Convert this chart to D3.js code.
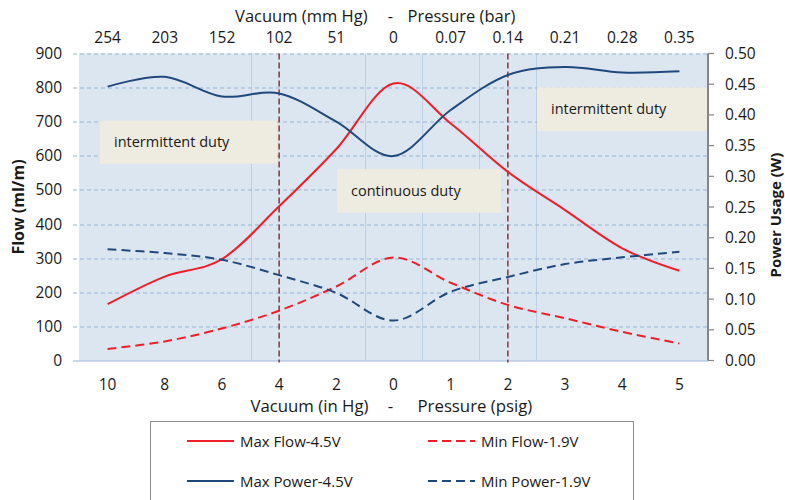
<!DOCTYPE html>
<html>
<head>
<meta charset="utf-8">
<script src="https://cdn.jsdelivr.net/npm/d3@7"></script>
<style>
  body { margin: 0; background: #fff; }
  text { font-family: "Open Sans", sans-serif; fill: #1a1a1a; }
</style>
</head>
<body>
<div id="chart"></div>
<script>
// categories: negative = vacuum (in Hg), positive = pressure (psig)
const categories = ["-10", "-8", "-6", "-4", "-2", "0", "1", "2", "3", "4", "5"];
const bottomLabels = ["10", "8", "6", "4", "2", "0", "1", "2", "3", "4", "5"];
const topLabels = ["254", "203", "152", "102", "51", "0", "0.07", "0.14", "0.21", "0.28", "0.35"];

const maxFlow = [165, 246, 297, 452, 620, 812, 695, 553, 441, 329, 263];
const minFlow = [34, 56, 94, 146, 217, 302, 228, 163, 124, 84, 50];
const maxPower = [0.446, 0.462, 0.430, 0.435, 0.389, 0.333, 0.408, 0.465, 0.478, 0.469, 0.471];
const minPower = [0.181, 0.175, 0.164, 0.139, 0.110, 0.065, 0.112, 0.136, 0.157, 0.168, 0.177];

const flowTicks = d3.range(0, 901, 100);
const powerTicks = d3.range(0, 0.501, 0.05);
const dutyLimits = ["-4", "2"];
// light vertical grid lines sit after these categories
const vGridAfter = ["-6", "-2", "0", "1", "2"];

const margin = { top: 53.5, right: 77, bottom: 139.5, left: 79 },
      width = 785 - margin.left - margin.right,
      height = 500 - margin.top - margin.bottom;

const svg = d3.select("#chart").append("svg")
  .attr("width", 785).attr("height", 500);

const g = svg.append("g").attr("transform", `translate(${margin.left},${margin.top})`);

const xb = d3.scaleBand().domain(categories).range([0, width]);
const x = c => xb(c) + xb.bandwidth() / 2;
const yL = d3.scaleLinear().domain([0, 900]).range([height, 0]);
const yR = d3.scaleLinear().domain([0, 0.5]).range([height, 0]);

// plot background
g.append("rect").attr("width", width).attr("height", height).attr("fill", "#dce6f1");

// vertical light grid
g.selectAll(".vgrid").data(vGridAfter).enter().append("line")
  .attr("x1", d => Math.round(xb(d) + xb.bandwidth()) + 0.5)
  .attr("x2", d => Math.round(xb(d) + xb.bandwidth()) + 0.5)
  .attr("y1", 0).attr("y2", height)
  .attr("stroke", "#bccfe6").attr("stroke-width", 1);

// horizontal dashed grid + left ticks
g.selectAll(".hgrid").data(flowTicks.slice(1)).enter().append("line")
  .attr("x1", -6).attr("x2", width)
  .attr("y1", d => Math.round(yL(d)) + 0.5).attr("y2", d => Math.round(yL(d)) + 0.5)
  .attr("stroke", "#95b3d7").attr("stroke-width", 1).attr("stroke-dasharray", "4,3");

// bottom axis line
g.append("line").attr("x1", -6).attr("x2", width)
  .attr("y1", height + 0.5).attr("y2", height + 0.5)
  .attr("stroke", "#95b3d7").attr("stroke-width", 1.2);

// annotation boxes
const boxes = [
  { label: "intermittent duty", x0: 21, x1: 198, v0: 703, v1: 577 },
  { label: "continuous duty", x0: 258, x1: 422, v0: 561, v1: 433 },
  { label: "intermittent duty", x0: 458, x1: width - 1, v0: 801, v1: 673 }
];
boxes.forEach(b => {
  g.append("rect")
    .attr("x", b.x0).attr("y", yL(b.v0))
    .attr("width", b.x1 - b.x0).attr("height", yL(b.v1) - yL(b.v0))
    .attr("fill", "#eeece1");
  g.append("text")
    .attr("x", b.x0 + 14).attr("y", (yL(b.v0) + yL(b.v1)) / 2 + 5)
    .attr("font-size", "14.5px")
    .text(b.label);
});

// duty limit lines
g.selectAll(".duty").data(dutyLimits).enter().append("line")
  .attr("x1", d => x(d)).attr("x2", d => x(d))
  .attr("y1", 0).attr("y2", height + 2)
  .attr("stroke", "#8b3333").attr("stroke-width", 1.5).attr("stroke-dasharray", "6,3");

// series
const series = [
  { name: "Max Flow-4.5V", values: maxFlow, scale: yL, color: "#f01e28", dash: null },
  { name: "Min Flow-1.9V", values: minFlow, scale: yL, color: "#f01e28", dash: "9,5" },
  { name: "Max Power-4.5V", values: maxPower, scale: yR, color: "#1f497d", dash: null },
  { name: "Min Power-1.9V", values: minPower, scale: yR, color: "#1f497d", dash: "9,5" }
];

series.forEach(s => {
  const line = d3.line()
    .x((d, i) => x(categories[i]))
    .y(d => s.scale(d))
    .curve(d3.curveCardinal.tension(0));
  g.append("path")
    .datum(s.values)
    .attr("fill", "none")
    .attr("stroke", s.color)
    .attr("stroke-width", 2)
    .attr("stroke-dasharray", s.dash)
    .attr("d", line);
});

// left axis labels
g.selectAll(".ltick").data(flowTicks).enter().append("text")
  .attr("x", -17).attr("y", d => yL(d) + 5.5)
  .attr("text-anchor", "end").attr("font-size", "15.5px")
  .text(d => d);

// right axis
const ra = g.append("g").attr("transform", `translate(${width},0)`);
ra.append("line").attr("x1", 0).attr("x2", 0).attr("y1", 0).attr("y2", height)
  .attr("stroke", "#868686").attr("stroke-width", 2);
ra.selectAll(".rt").data(powerTicks).enter().append("line")
  .attr("x1", 0).attr("x2", 6)
  .attr("y1", d => yR(d)).attr("y2", d => yR(d))
  .attr("stroke", "#868686").attr("stroke-width", 1.2);
ra.selectAll(".rl").data(powerTicks).enter().append("text")
  .attr("x", 17).attr("y", d => yR(d) + 5.5)
  .attr("font-size", "15.5px")
  .text(d => d3.format(".2f")(d));

// bottom tick labels
g.selectAll(".bl").data(categories).enter().append("text")
  .attr("x", d => x(d)).attr("y", height + 29)
  .attr("text-anchor", "middle").attr("font-size", "15.5px")
  .text((d, i) => bottomLabels[i]);

// top tick labels
g.selectAll(".tl").data(categories).enter().append("text")
  .attr("x", d => x(d)).attr("y", -10.5)
  .attr("text-anchor", "middle").attr("font-size", "15.5px")
  .text((d, i) => topLabels[i]);

// axis titles
const xTitle = (y, size, gapL, gapR, left, right) => {
  const cx = x("0");
  g.append("text").attr("x", cx - gapL).attr("y", y).attr("text-anchor", "end")
    .attr("font-size", size).text(left);
  g.append("text").attr("x", cx - 3).attr("y", y).attr("text-anchor", "middle")
    .attr("font-size", size).text("-");
  g.append("text").attr("x", cx + gapR).attr("y", y).attr("text-anchor", "start")
    .attr("font-size", size).text(right);
};
xTitle(height + 51, "16.8px", 25, 24, "Vacuum (in Hg)", "Pressure (psig)");
xTitle(-31.5, "16.5px", 26, 14, "Vacuum (mm Hg)", "Pressure (bar)");

svg.append("text")
  .attr("transform", `translate(24,${margin.top + height / 2}) rotate(-90)`)
  .attr("text-anchor", "middle").attr("font-size", "16px").attr("font-weight", "bold")
  .text("Flow (ml/m)");
svg.append("text")
  .attr("transform", `translate(781,${margin.top + height / 2 + 8}) rotate(-90)`)
  .attr("text-anchor", "middle").attr("font-size", "15px").attr("font-weight", "bold")
  .text("Power Usage (W)");

// legend
const lg = svg.append("g");
lg.append("rect").attr("x", 150.5).attr("y", 421.5).attr("width", 483).attr("height", 90)
  .attr("fill", "#fff").attr("stroke", "#8c8c8c").attr("stroke-width", 1);
series.forEach((s, i) => {
  const col = i % 2, row = Math.floor(i / 2);
  const lx = 187 + col * 241, ly = 441 + row * 40;
  lg.append("line").attr("x1", lx).attr("x2", lx + 47).attr("y1", ly).attr("y2", ly)
    .attr("stroke", s.color).attr("stroke-width", 2).attr("stroke-dasharray", s.dash ? "9,5" : null);
  lg.append("text").attr("x", lx + 53).attr("y", ly + 5.5)
    .attr("font-size", "15px").text(s.name);
});
</script>
</body>
</html>
